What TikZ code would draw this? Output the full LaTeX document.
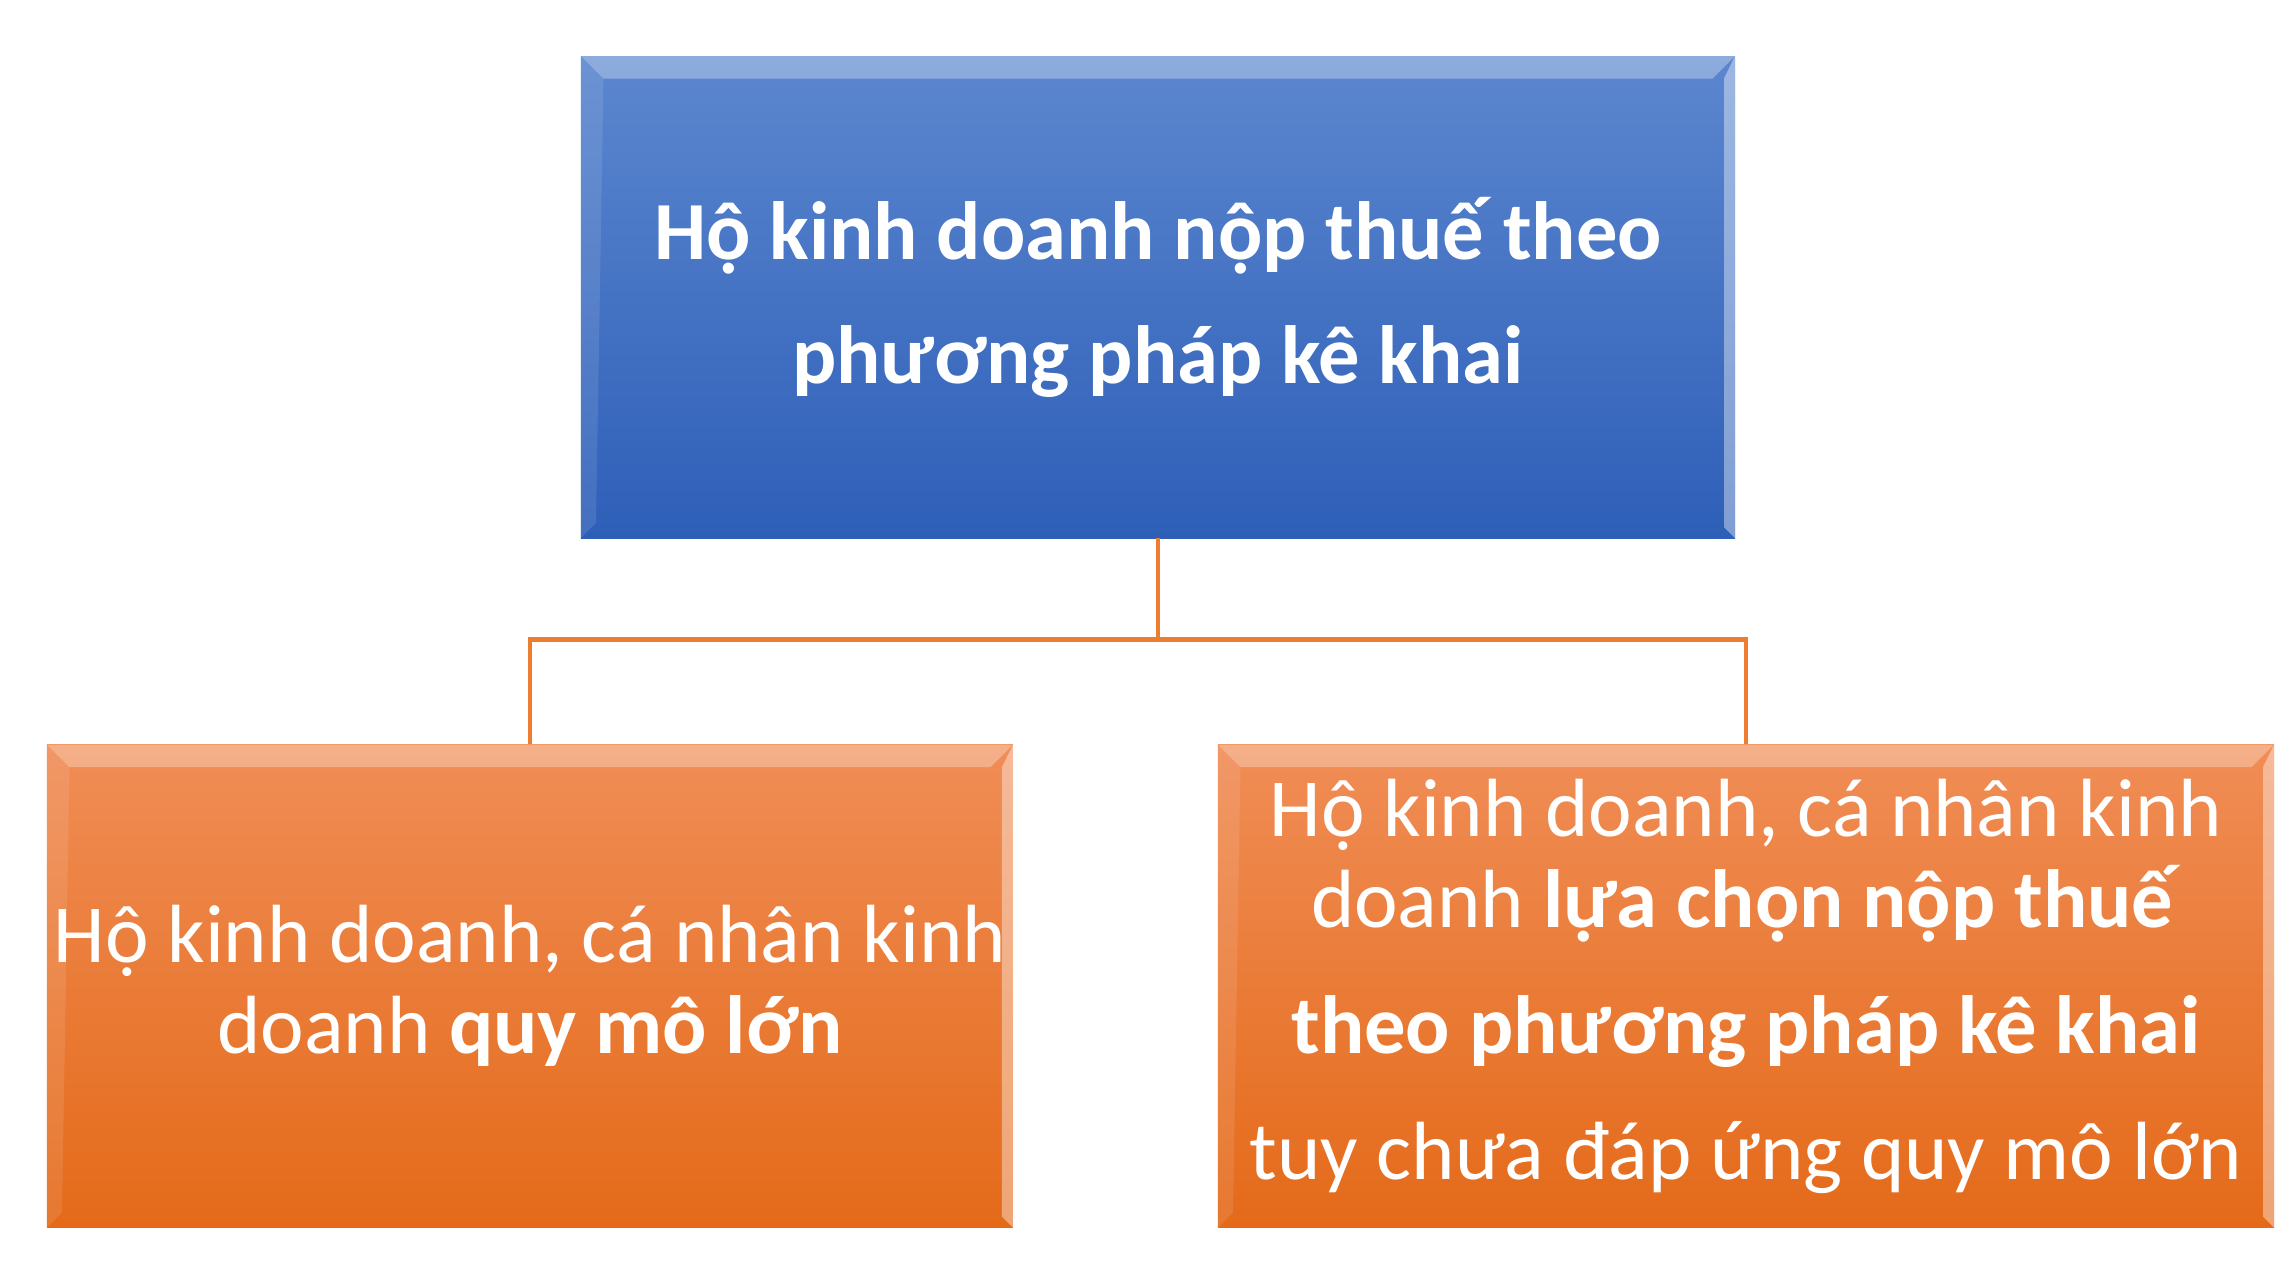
\documentclass[tikz,border=0pt]{standalone}
\usepackage{fontspec}
\setmainfont{Carlito}
\usetikzlibrary{positioning, calc}
\definecolor{hk_bluetop}{HTML}{5C87CF}
\definecolor{hk_bluebot}{HTML}{2E5FB8}
\definecolor{hk_orangetop}{HTML}{F08D56}
\definecolor{hk_orangebot}{HTML}{E46A19}
\definecolor{hk_line}{HTML}{ED7D31}
\tikzset{
  bevel/.style={path picture={
    \fill[white,opacity=.3] (path picture bounding box.north west) -- (path picture bounding box.north east)
      -- ([shift={(-.45,-.45)}]path picture bounding box.north east) -- ([shift={(.45,-.45)}]path picture bounding box.north west) -- cycle;
    \fill[white,opacity=.4] (path picture bounding box.north east) -- (path picture bounding box.south east)
      -- ([shift={(-.22,.22)}]path picture bounding box.south east) -- ([shift={(-.22,-.45)}]path picture bounding box.north east) -- cycle;
    \fill[white,opacity=.1] (path picture bounding box.north west) -- (path picture bounding box.south west)
      -- ([shift={(.3,.3)}]path picture bounding box.south west) -- ([shift={(.45,-.45)}]path picture bounding box.north west) -- cycle;
  }},
  headbox/.style={rectangle,top color=hk_bluetop,bottom color=hk_bluebot,bevel,text=white,align=center,inner sep=0pt,
    minimum width=23.08cm,minimum height=9.64cm,font=\fontsize{47}{70.6}\selectfont\bfseries},
  childbox/.style={rectangle,top color=hk_orangetop,bottom color=hk_orangebot,bevel,text=white,align=center,inner sep=0pt,
    minimum height=9.66cm,font=\fontsize{47}{51.8}\selectfont},
  link/.style={draw=hk_line,line width=2.5pt},
}
\begin{document}
\begin{tikzpicture}
	    \useasboundingbox (-23.16,5.94) rectangle (22.52,-19.6);
	    \node[headbox] (A) {Hộ kinh doanh nộp thuế theo\\phương pháp kê khai};
	    \node[childbox,minimum width=19.32cm,below=4.12cm of A,xshift=-12.56cm] (B) {Hộ kinh doanh, cá nhân kinh\\doanh \textbf{quy mô lớn}};
	    \node[childbox,minimum width=21.12cm,below=4.12cm of A,xshift=11.76cm] (C) {Hộ kinh doanh, cá nhân kinh\\doanh \textbf{lựa chọn nộp thuế}\\[19.9pt]\textbf{theo phương pháp kê khai}\\[19.9pt]tuy chưa đáp ứng quy mô lớn};
	    \coordinate[below=2.02cm of A] (M);
	    \draw[link] (A) -- (M);
	    \draw[link] (M) -| (B);
	    \draw[link] (M) -| (C);
	\end{tikzpicture}
\end{document}
